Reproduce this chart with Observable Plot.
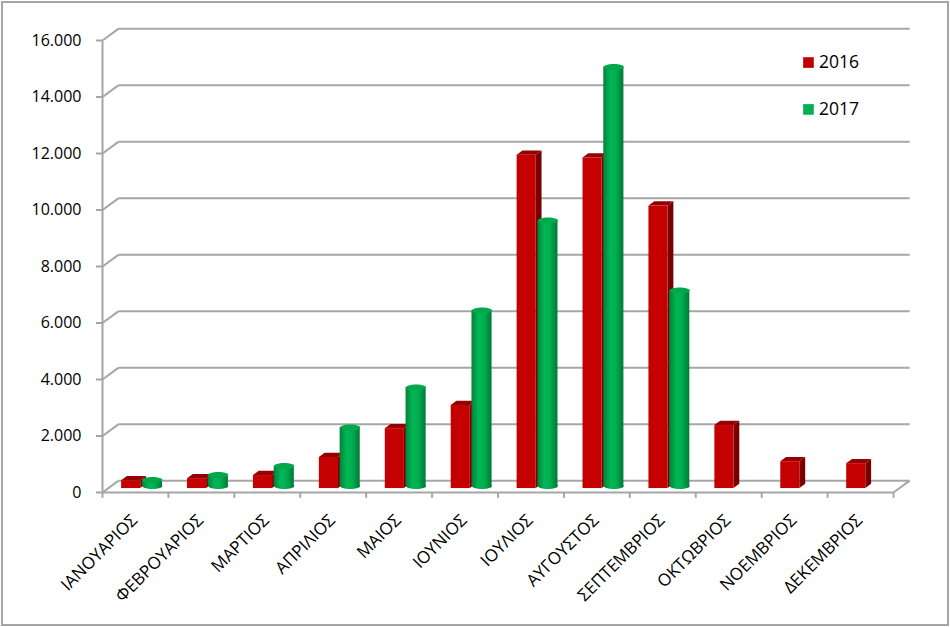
<!DOCTYPE html>
<html><head><meta charset="utf-8">
<script src="https://cdn.jsdelivr.net/npm/d3@7"></script>
<script src="https://cdn.jsdelivr.net/npm/@observablehq/plot@0.6"></script>
<style>
html,body{margin:0;padding:0;background:#fff}
svg{display:block}
</style></head><body><div id="chart"></div>
<script>
const months = ["ΙΑΝΟΥΑΡΙΟΣ","ΦΕΒΡΟΥΑΡΙΟΣ","ΜΑΡΤΙΟΣ","ΑΠΡΙΛΙΟΣ","ΜΑΙΟΣ","ΙΟΥΝΙΟΣ","ΙΟΥΛΙΟΣ","ΑΥΓΟΥΣΤΟΣ","ΣΕΠΤΕΜΒΡΙΟΣ","ΟΚΤΩΒΡΙΟΣ","ΝΟΕΜΒΡΙΟΣ","ΔΕΚΕΜΒΡΙΟΣ"];
const values2016 = [280,350,460,1100,2120,2940,11800,11700,10000,2230,950,880];
const values2017 = [300,480,800,2160,3580,6300,9490,14920,7010,null,null,null];
const yTicks = [0,2000,4000,6000,8000,10000,12000,14000,16000];
const legendItems = [["2016","#c00000",15220],["2017","#00b050",13560]];

// depth of the 3-D wall and of the bars, in scale units
const wallX = 0.245, wallY = 420;
const barX = 0.088, barY = 150, base = 140, cylinderFoot = 230;
const red = {from: 0.29, to: 0.58};
const green = {from: 0.605, to: 0.91};

const monthIdx = d3.range(months.length);
const boundaries = d3.range(months.length + 1);
const reds = monthIdx.map(i => ({i, v: values2016[i]}));
const greens = monthIdx.filter(i => values2017[i] != null).map(i => ({i, v: values2017[i]}));

const sideFaces = reds.flatMap(({i, v}) => [
  {z: i, x: i + red.to, y1: base, y2: base + v},
  {z: i, x: i + red.to + barX, y1: base + barY, y2: base + v + barY}
]);
const topFaces = reds.flatMap(({i, v}) => [
  {z: i, x: i + red.from, y1: base + v, y2: base + v},
  {z: i, x: i + red.from + barX, y1: base + v, y2: base + v + barY},
  {z: i, x: i + red.to, y1: base + v, y2: base + v + barY},
  {z: i, x: i + red.to + barX, y1: base + v + barY, y2: base + v + barY}
]);

const ellipse = {
  draw(ctx, size) {
    const rx = Math.sqrt(size / Math.PI), ry = rx * 0.3, k = 0.5523;
    ctx.moveTo(-rx, 0);
    ctx.bezierCurveTo(-rx, -ry * k, -rx * k, -ry, 0, -ry);
    ctx.bezierCurveTo(rx * k, -ry, rx, -ry * k, rx, 0);
    ctx.bezierCurveTo(rx, ry * k, rx * k, ry, 0, ry);
    ctx.bezierCurveTo(-rx * k, ry, -rx, ry * k, -rx, 0);
    ctx.closePath();
  }
};

const gradient = () => {
  const ns = "http://www.w3.org/2000/svg";
  const defs = document.createElementNS(ns, "defs");
  const g = document.createElementNS(ns, "linearGradient");
  g.setAttribute("id", "cyl");
  [["0%","#00823c"],["35%","#00b655"],["60%","#00b050"],["100%","#007a38"]].forEach(([o,c]) => {
    const s = document.createElementNS(ns, "stop");
    s.setAttribute("offset", o); s.setAttribute("stop-color", c);
    g.appendChild(s);
  });
  defs.appendChild(g);
  return defs;
};

const grey = "#a6a6a6";
const plot = Plot.plot({
  width: 950, height: 627,
  marginLeft: 102, marginRight: 57, marginTop: 40, marginBottom: 135,
  style: {fontFamily: "'Open Sans', sans-serif", fontSize: "15px", color: "#000", background: "#fff",
          outline: "2px solid #a6a6a6", outlineOffset: "-3px"},
  x: {type: "linear", domain: [0, months.length], axis: null},
  y: {type: "linear", domain: [0, 16000], axis: null},
  marks: [
    gradient,
    // back wall gridlines and their slanted returns
    Plot.link(yTicks, {x1: wallX, x2: months.length + wallX, y1: d => d + wallY, y2: d => d + wallY, stroke: grey, strokeWidth: 2}),
    Plot.link(yTicks, {x1: 0, x2: wallX, y1: d => d, y2: d => d + wallY, stroke: grey, strokeWidth: 2}),
    // front axes
    Plot.link([0], {x1: 0, x2: 0, y1: 0, y2: 16000, stroke: grey, strokeWidth: 2}),
    Plot.link([0], {x1: 0, x2: months.length, y1: 0, y2: 0, stroke: grey, strokeWidth: 2}),
    Plot.link([0], {x1: months.length, x2: months.length + wallX, y1: 0, y2: wallY, stroke: grey, strokeWidth: 2}),
    Plot.axisY({ticks: yTicks, tickSize: 6, tickPadding: 15, stroke: grey, strokeWidth: 2, label: null, fontSize: 16, color: "#000", fill: "#000",
      tickFormat: d => d3.format(",")(d).replace(/,/g, ".")}),
    Plot.link(boundaries, {x1: d => d, x2: d => d, y1: 0, y2: -190, stroke: grey, strokeWidth: 2}),
    // 2016: box bars
    Plot.area(sideFaces, {x1: "x", y1: "y1", y2: "y2", z: "z", fill: "#7a0000"}),
    Plot.area(topFaces, {x1: "x", y1: "y1", y2: "y2", z: "z", fill: "#960000"}),
    Plot.rect(reds, {x1: d => d.i + red.from, x2: d => d.i + red.to, y1: base, y2: d => base + d.v, fill: "#c40000"}),
    // 2017: cylinders
    Plot.dot(greens, {x: d => d.i + (green.from + green.to) / 2, y: cylinderFoot, r: 10, symbol: ellipse, fill: "url(#cyl)"}),
    Plot.rect(greens, {x1: d => d.i + green.from, x2: d => d.i + green.to, y1: cylinderFoot, y2: d => base + d.v, fill: "url(#cyl)"}),
    Plot.dot(greens, {x: d => d.i + (green.from + green.to) / 2, y: d => base + d.v, r: 10, symbol: ellipse, fill: "#00a84c"}),
    // month labels
    Plot.text(monthIdx, {x: d => d + 0.5, y: 0, text: d => months[d], rotate: -45, textAnchor: "end", dx: -1, dy: 25, fontSize: 17}),
    // legend
    Plot.dot(legendItems, {x: 10.71, y: d => d[2], symbol: "square", r: 6, fill: d => d[1]}),
    Plot.text(legendItems, {x: 10.87, y: d => d[2], text: d => d[0], textAnchor: "start", fontSize: 17.5})
  ]
});
document.getElementById("chart").appendChild(plot);
</script></body></html>
